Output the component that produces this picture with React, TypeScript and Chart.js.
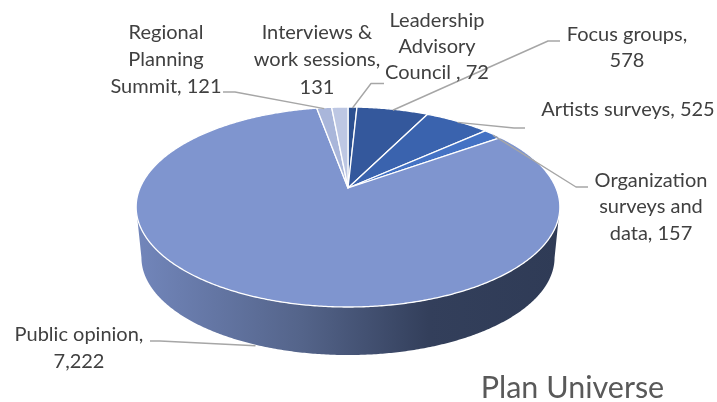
import React, { useEffect, useRef } from "react";
import { Chart, registerables } from "chart.js";

Chart.register(...registerables);

const categories = [
  "Leadership Advisory Council",
  "Focus groups",
  "Artists surveys",
  "Organization surveys and data",
  "Public opinion",
  "Regional Planning Summit",
  "Interviews & work sessions",
];
const values = [72, 578, 525, 157, 7222, 121, 131];
const sliceColors = ["#2c5090", "#34589c", "#3a63ae", "#4472c4", "#7f95cf", "#a9b6da", "#bdc7e3"];
const labelLines = [
  ["Leadership", "Advisory", "Council , {v}"],
  ["Focus groups,", "{v}"],
  ["Artists surveys, {v}"],
  ["Organization", "surveys and", "data, {v}"],
  ["Public opinion,", "{v}"],
  ["Regional", "Planning", "Summit, {v}"],
  ["Interviews &", "work sessions,", "{v}"],
];
const chartTitle = "Plan Universe";

// Layout of the perspective projection and of the callouts (not data)
const APEX = { x: 348, y: 188 };
const PERSP = { k: 0.19, a: 96.4, b: 208 };
const BASE = { scale: 0.975, drop: 51 };
const labelLayout = [
  { cx: 437, ys: [21, 47, 73], path: [[384, 83.5], [371, 83.5]], onBase: false },
  { cx: 627, ys: [35, 61], path: [[560, 41], [548, 41]], onBase: false },
  { cx: 628, ys: [110], path: [[525, 128], [514, 128]], onBase: false },
  { cx: 651, ys: [181, 207, 234], path: [[588, 187], [576, 187]], onBase: false },
  { cx: 79, ys: [335, 362], path: [[150, 341], [160, 341]], onBase: true },
  { cx: 166, ys: [33, 60, 87], path: [[223, 92], [235, 92]], onBase: false },
  { cx: 317, ys: [33, 60, 88], path: [], onBase: false },
];

function project(theta: number, base = false) {
  const sx = Math.sin(theta);
  const z = Math.cos(theta);
  const d = 1 + PERSP.k * z;
  const X = (PERSP.b * sx) / d;
  const Y = (PERSP.a * z) / d;
  return base
    ? { x: APEX.x + X * BASE.scale, y: APEX.y - Y * BASE.scale + BASE.drop }
    : { x: APEX.x + X, y: APEX.y - Y };
}

const perspectivePie = {
  id: "perspectivePie",
  beforeDatasetsDraw(chart: any) {
    const ctx: CanvasRenderingContext2D = chart.ctx;
    const arcs = chart.getDatasetMeta(0).data;
    const colors = chart.data.datasets[0].backgroundColor;
    const step = Math.PI / 360;
    const frontA = Math.acos(-PERSP.k);
    const frontB = 2 * Math.PI - frontA;

    ctx.save();
    // side wall
    const grad = ctx.createLinearGradient(136, 0, 560, 0);
    grad.addColorStop(0, "#7286bb");
    grad.addColorStop(0.39, "#54648a");
    grad.addColorStop(0.69, "#333f5b");
    grad.addColorStop(1, "#2f3b56");
    arcs.forEach((arc: any) => {
      const s = Math.max(arc.startAngle + Math.PI / 2, frontA);
      const e = Math.min(arc.endAngle + Math.PI / 2, frontB);
      if (e <= s) return;
      ctx.beginPath();
      for (let t = s; t < e; t += step) {
        const p = project(t);
        ctx.lineTo(p.x, p.y);
      }
      for (let t = e; t > s; t -= step) {
        const p = project(t, true);
        ctx.lineTo(p.x, p.y);
      }
      ctx.closePath();
      ctx.fillStyle = grad;
      ctx.fill();
    });

    // top face
    arcs.forEach((arc: any, i: number) => {
      const s = arc.startAngle + Math.PI / 2;
      const e = arc.endAngle + Math.PI / 2;
      ctx.beginPath();
      ctx.moveTo(APEX.x, APEX.y);
      for (let t = s; t < e; t += step) {
        const p = project(t);
        ctx.lineTo(p.x, p.y);
      }
      const pe = project(e);
      ctx.lineTo(pe.x, pe.y);
      ctx.closePath();
      ctx.fillStyle = colors[i];
      ctx.fill();
      ctx.strokeStyle = "#ffffff";
      ctx.lineWidth = 1.3;
      ctx.lineJoin = "round";
      ctx.stroke();
    });

    // leader lines
    ctx.strokeStyle = "#a6a6a6";
    ctx.lineWidth = 1.4;
    arcs.forEach((arc: any, i: number) => {
      const lay = labelLayout[i];
      if (!lay.path.length) return;
      const mid = (arc.startAngle + arc.endAngle) / 2 + Math.PI / 2;
      const end = project(mid, lay.onBase);
      ctx.beginPath();
      lay.path.forEach((p, j) => (j ? ctx.lineTo(p[0], p[1]) : ctx.moveTo(p[0], p[1])));
      ctx.lineTo(end.x, end.y + 1);
      ctx.stroke();
    });

    // labels
    ctx.fillStyle = "#404040";
    ctx.font = "20px Lato";
    ctx.textAlign = "center";
    ctx.textBaseline = "middle";
    labelLines.forEach((lines, i) => {
      const v = values[i].toLocaleString("en-US");
      lines.forEach((line, j) => {
        ctx.fillText(line.replace("{v}", v), labelLayout[i].cx, labelLayout[i].ys[j]);
      });
    });
    ctx.fillStyle = "#595959";
    ctx.font = "30.5px Lato";
    ctx.fillText(chartTitle, 572.5, 388);
    ctx.restore();
    return false;
  },
};

export default function App() {
  const ref = useRef<HTMLCanvasElement>(null);
  useEffect(() => {
    const chart = new Chart(ref.current!, {
      type: "pie",
      data: {
        labels: categories,
        datasets: [{ data: values, backgroundColor: sliceColors, borderWidth: 0 }],
      },
      options: {
        responsive: false,
        animation: false,
        plugins: { legend: { display: false }, tooltip: { enabled: false } },
      },
      plugins: [perspectivePie],
    } as any);
    return () => chart.destroy();
  }, []);
  return (
    <div style={{ position: "absolute", left: 0, top: 0, width: 717, height: 402, background: "#fff" }}>
      <canvas ref={ref} width={717} height={402} style={{ display: "block" }} />
    </div>
  );
}
